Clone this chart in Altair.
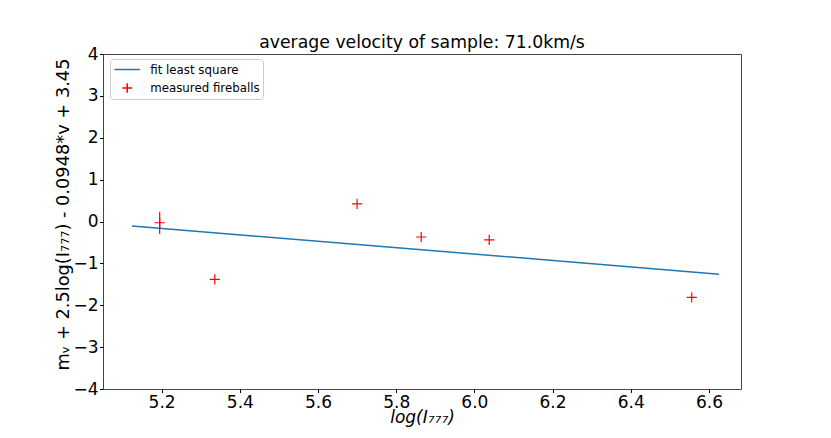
import altair as alt
import pandas as pd

# measured fireballs
pt_x = [5.195, 5.336, 5.700, 5.864, 6.038, 6.556]
pt_y = [-0.03, -1.38, 0.42, -0.37, -0.44, -1.81]
# vertical error bar on the first point
err_x = [5.195]
err_lo = [-0.30]
err_hi = [0.235]
# least square fit line end points
fit_x = [5.124, 6.626]
fit_y = [-0.108, -1.257]

x_ticks = [5.2, 5.4, 5.6, 5.8, 6.0, 6.2, 6.4, 6.6]
y_ticks = [-4, -3, -2, -1, 0, 1, 2, 3, 4]
series = ["fit least square", "measured fireballs"]
colors = ["#1f77b4", "#ff0000"]

LINE_SYM = "M-1.9,0H1.9"
PLUS = "M-0.72,0H0.72M0,-0.72V0.72"

pts = pd.DataFrame({"x": pt_x, "y": pt_y, "series": series[1]})
errs = pd.DataFrame({"x": err_x, "lo": err_lo, "hi": err_hi})
fit = pd.DataFrame({"x": fit_x, "y": fit_y, "series": series[0]})

FONT = "DejaVu Sans"

xs = alt.Scale(domain=[5.050, 6.682], nice=False, zero=False)
ys = alt.Scale(domain=[-4, 4], nice=False, zero=False)

x_axis = alt.Axis(values=x_ticks, format=".1f", title="log(I₇₇₇)",
                  titleFontStyle="italic", titleY=33.5, titleBaseline="alphabetic")
y_axis = alt.Axis(values=y_ticks, format="d",
                  title="mᵥ + 2.5log(I₇₇₇) - 0.0948*v + 3.45",
                  titleX=-40, titleY=160, titleAlign="center",
                  titleBaseline="middle", titleAngle=-90, titleFontSize=17.8)

legend = alt.Legend(title=None, orient="none", legendX=7, legendY=5)

color_scale = alt.Scale(domain=series, range=colors)
shape_scale = alt.Scale(domain=series, range=[LINE_SYM, PLUS])

line = alt.Chart(fit).mark_line(strokeWidth=1.5).encode(
    x=alt.X("x:Q", scale=xs, axis=x_axis),
    y=alt.Y("y:Q", scale=ys, axis=y_axis),
    color=alt.Color("series:N", scale=color_scale, legend=legend),
)

points = alt.Chart(pts).mark_point(filled=False, size=200, strokeWidth=1.2, opacity=1).encode(
    x=alt.X("x:Q", scale=xs),
    y=alt.Y("y:Q", scale=ys),
    color=alt.Color("series:N", scale=color_scale, legend=legend),
    shape=alt.Shape("series:N", scale=shape_scale, legend=legend),
)

errbar = alt.Chart(errs).mark_rule(color="#ff0000", strokeWidth=1.2).encode(
    x=alt.X("x:Q", scale=xs),
    y=alt.Y("lo:Q", scale=ys),
    y2="hi:Q",
)

chart = alt.layer(line, errbar, points).properties(
    width=638,
    height=335,
    title=alt.TitleParams("average velocity of sample: 71.0km/s", font=FONT,
                          fontSize=17.3, fontWeight="normal", color="black",
                          anchor="middle", offset=-6),
    padding={"left": 95, "top": 46, "right": 80, "bottom": 41},
    autosize="none",
).configure_view(
    stroke="#444444", strokeWidth=1
).configure_axis(
    grid=False, domain=False, tickColor="black", tickSize=3.5, tickWidth=1,
    labelFont=FONT, labelFontSize=17, labelColor="black", labelPadding=1.5,
    titleFont=FONT, titleFontSize=17, titleFontWeight="normal", titleColor="black",
).configure_legend(
    labelFont=FONT, labelFontSize=11.8, labelColor="black",
    strokeColor="#cccccc", fillColor="white", cornerRadius=3, padding=3,
    symbolSize=182, symbolStrokeWidth=1.5, rowPadding=2.5,
    symbolOffset=6.75, labelOffset=15.5,
)

chart.save("out.html", embed_options={"renderer": "svg", "actions": False})
